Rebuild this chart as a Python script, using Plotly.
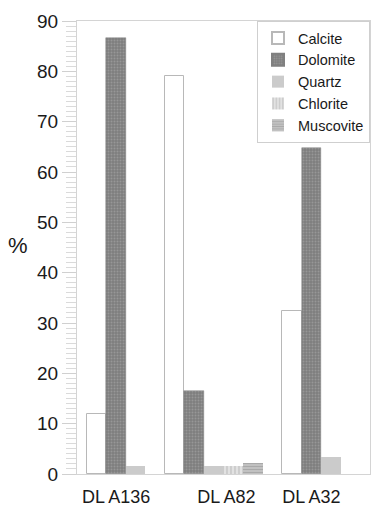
import plotly.graph_objects as go

# Mineral composition (%) of three samples
samples = ["DL A136", "DL A82", "DL A32"]
minerals = ["Calcite", "Dolomite", "Quartz", "Chlorite", "Muscovite"]
calcite = [12.0, 79.1, 32.4]
dolomite = [86.7, 16.4, 64.8]
quartz = [1.6, 1.6, 3.3]
chlorite = [0.0, 1.6, 0.0]
muscovite = [0.0, 2.1, 0.0]
values = [calcite, dolomite, quartz, chlorite, muscovite]
y_ticks = [0, 10, 20, 30, 40, 50, 60, 70, 80, 90]

styles = {
    "Calcite": dict(color="white", line=dict(color="#b8b8b8", width=1)),
    "Dolomite": dict(color="#8a8a8a", line=dict(color="#808080", width=0.5),
                     pattern=dict(shape=".", size=3, solidity=0.35,
                                  fgcolor="#b0b0b0", bgcolor="#7e7e7e")),
    "Quartz": dict(color="#cbcbcb", line=dict(width=0)),
    "Chlorite": dict(color="#dcdcdc", line=dict(width=0),
                     pattern=dict(shape="|", size=4, solidity=0.35,
                                  fgcolor="#a8a8a8", bgcolor="#e2e2e2")),
    "Muscovite": dict(color="#b4b4b4", line=dict(width=0),
                      pattern=dict(shape="-", size=3, solidity=0.4,
                                   fgcolor="#8e8e8e", bgcolor="#c4c4c4")),
}

# Slot layout: only non-zero bars take a slot, one empty slot between samples
slot_x = {m: [] for m in minerals}
slot_v = {m: [] for m in minerals}
group_centers = []
pos = 1
for si, s in enumerate(samples):
    start = pos
    for mi, m in enumerate(minerals):
        v = values[mi][si]
        if v > 0:
            slot_x[m].append(pos)
            slot_v[m].append(v)
            pos += 1
    group_centers.append((start + pos - 1) / 2)
    pos += 1
label_pos = list(group_centers)
label_pos[1] += 0.65  # middle sample label sits slightly right of centre
x_max = pos  # half a slot of padding after the last bar

fig = go.Figure()
for m in minerals:
    fig.add_trace(go.Bar(
        x=slot_x[m], y=slot_v[m], name=m, width=1.0,
        marker=styles[m], showlegend=True,
    ))

font = "Liberation Sans, Arial, sans-serif"
fig.update_layout(
    width=371, height=506,
    margin=dict(l=77, r=1, t=21, b=32, autoexpand=False),
    paper_bgcolor="white", plot_bgcolor="white",
    barmode="overlay", bargap=0,
    font=dict(family=font, color="#1a1a1a"),
    showlegend=True,
    legend=dict(x=1, y=1, xanchor="right", yanchor="top",
                bgcolor="white", bordercolor="#cfcfcf", borderwidth=1,
                font=dict(size=14.5, family=font, color="#1a1a1a"),
                tracegroupgap=0, itemsizing="constant"),
    xaxis=dict(range=[0, x_max], tickvals=label_pos, automargin=False,
               ticktext=samples, tickfont=dict(size=18),
               ticks="outside", ticklen=6, tickcolor="rgba(0,0,0,0)",
               showgrid=False, zeroline=False,
               showline=True, linecolor="#d4d4d4", linewidth=1, mirror=True),
    yaxis=dict(range=[0, 90], tickvals=y_ticks, automargin=False,
               tickfont=dict(size=19),
               ticks="outside", ticklen=14, tickcolor="#d0d0d0",
               minor=dict(dtick=1, ticks="outside", ticklen=10,
                          tickcolor="#dadada"),
               showgrid=False, zeroline=False,
               showline=True, linecolor="#d4d4d4", linewidth=1, mirror=True),
)
fig.add_annotation(text="%", xref="paper", yref="paper", x=-0.201, y=0.505,
                   xanchor="center", yanchor="middle", showarrow=False,
                   font=dict(size=22, family=font, color="#1a1a1a"))

fig.write_html("out.html")
